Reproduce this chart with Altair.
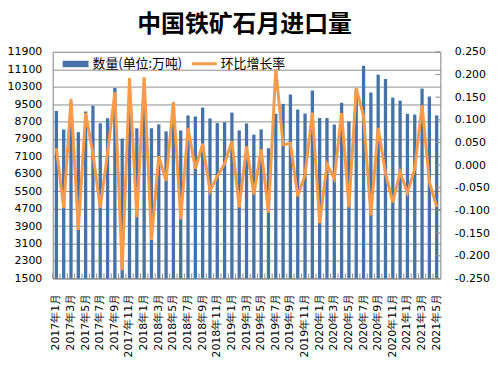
import json
import altair as alt
import pandas as pd

months = [f"{y}年{m}月" for y in range(2017, 2022) for m in range(1, 13)][:53]

volume = [9180, 8340, 9550, 8210, 9160, 9430, 8620, 8850, 10240, 7920,
          9450, 8390, 10010, 8390, 8570, 8250, 9400, 8290, 8980, 8930,
          9340, 8840, 8630, 8670, 9110, 8290, 8610, 8100, 8340, 7470,
          9060, 9510, 9940, 9250, 9070, 10120, 8860, 8860, 8560, 9560,
          8690, 10170, 11260, 10030, 10850, 10650, 9800, 9660, 9060, 9020,
          10210, 9850, 8980]

rate = [0.037, -0.095, 0.146, -0.143, 0.115, 0.025, -0.095, 0.027, 0.161, -0.232,
        0.192, -0.115, 0.194, -0.165, 0.020, -0.035, 0.139, -0.120, 0.082, -0.008,
        0.047, -0.057, -0.025, 0.003, 0.053, -0.093, 0.041, -0.065, 0.035, -0.105,
        0.212, 0.045, 0.048, -0.069, -0.021, 0.116, -0.128, 0.002, -0.030, 0.115,
        -0.093, 0.170, 0.108, -0.111, 0.082, -0.018, -0.082, -0.015, -0.061, -0.008,
        0.132, -0.037, -0.092]

left_ticks = [1500, 2300, 3100, 3900, 4700, 5500, 6300, 7100, 7900, 8700, 9500, 10300, 11100, 11900]
right_ticks = [-0.25, -0.2, -0.15, -0.1, -0.05, 0.0, 0.05, 0.1, 0.15, 0.2, 0.25]
label_months = months[::2]
title_text = "中国铁矿石月进口量"
legend_names = ["数量(单位:万吨)", "环比增长率"]

df = pd.DataFrame({"月份": months, "数量": volume, "环比": rate})

W, H = 390, 228
BLUE = "#4572A7"
ORANGE = "#F79A4A"
GRID = "#8E8E8E"
FONT = "DejaVu Sans"

label_expr = ("indexof(" + json.dumps(label_months, ensure_ascii=False)
              + ", datum.value) >= 0 ? datum.value : ''")

x_axis = alt.Axis(title=None, labelAngle=270, labelExpr=label_expr, ticks=False,
                  domainColor=GRID, labelPadding=15, labelFont=FONT, labelFontSize=11,
                  labelColor="#000000", labelAlign="right", labelBaseline="middle",
                  labelOverlap=False)
x_scale = alt.Scale(paddingInner=0.55, paddingOuter=0.275)


def make_x(**kw):
    return alt.X("月份:N", sort=months, scale=x_scale, axis=x_axis, **kw)


left_axis = alt.Axis(title=None, orient="left", values=left_ticks, format="d", grid=True,
                     gridColor=GRID, ticks=False, domainColor=GRID, labelPadding=11,
                     labelFont=FONT, labelFontSize=11, labelColor="#000000")
right_axis = alt.Axis(title=None, orient="right", values=right_ticks, grid=False,
                      labelExpr="(datum.value < 0 ? '-' : '') + format(abs(datum.value), '.3f')",
                      ticks=False, domainColor=GRID, labelPadding=14,
                      labelFont=FONT, labelFontSize=11, labelColor="#000000")

base = alt.Chart(df)

bars = base.mark_bar(color=BLUE).encode(
    x=make_x(),
    y=alt.Y("数量:Q", scale=alt.Scale(domain=[1500, 11900], nice=False, zero=False), axis=left_axis),
    y2=alt.datum(1500),
)

bottom_ticks = base.mark_rule(color=GRID, strokeWidth=1).encode(
    x=make_x(bandPosition=0),
    xOffset=alt.value(-2),
    y=alt.value(H),
    y2=alt.value(H - 5),
)

line = base.mark_line(color=ORANGE, strokeWidth=3).encode(
    x=make_x(),
    y=alt.Y("环比:Q", scale=alt.Scale(domain=[-0.25, 0.25], nice=False, zero=False), axis=right_axis),
)

rt = alt.Chart(pd.DataFrame({"v": right_ticks})).mark_rule(color=GRID, strokeWidth=1).encode(
    y=alt.Y("v:Q", scale=alt.Scale(domain=[-0.25, 0.25], nice=False, zero=False), axis=right_axis),
    x=alt.value(W - 5),
    x2=alt.value(W),
)

right_layer = alt.layer(rt, line)

one = pd.DataFrame({"k": [0]})
leg_rect = alt.Chart(one).mark_rect(color=BLUE).encode(
    x=alt.value(10), x2=alt.value(36), y=alt.value(9), y2=alt.value(15.5))
leg_text1 = alt.Chart(one).mark_text(align="left", baseline="middle", fontSize=13,
                                     font="Noto Sans CJK SC", color="#000000").encode(
    x=alt.value(40), y=alt.value(12), text=alt.value(legend_names[0]))
leg_line = alt.Chart(one).mark_rule(color=ORANGE, strokeWidth=3).encode(
    x=alt.value(140), x2=alt.value(165), y=alt.value(12))
leg_text2 = alt.Chart(one).mark_text(align="left", baseline="middle", fontSize=13,
                                     font="Noto Sans CJK SC", color="#000000").encode(
    x=alt.value(169), y=alt.value(12), text=alt.value(legend_names[1]))

title = alt.Chart(one).mark_text(align="center", baseline="middle", fontSize=24,
                                 font="Noto Sans CJK SC", fontWeight="bold", color="#000000").encode(
    x=alt.value(193), y=alt.value(-27), text=alt.value(title_text))

chart = alt.layer(
    bars, bottom_ticks, right_layer, leg_rect, leg_text1, leg_line, leg_text2, title
).resolve_scale(y="independent").properties(
    width=W, height=H,
    padding={"left": 45, "top": 43, "right": 56, "bottom": 80},
    autosize=alt.AutoSizeParams(type="none"),
).configure_view(stroke=GRID, strokeWidth=1).configure(background="white")

chart.save("out.html", embed_options={"renderer": "svg", "actions": False})
